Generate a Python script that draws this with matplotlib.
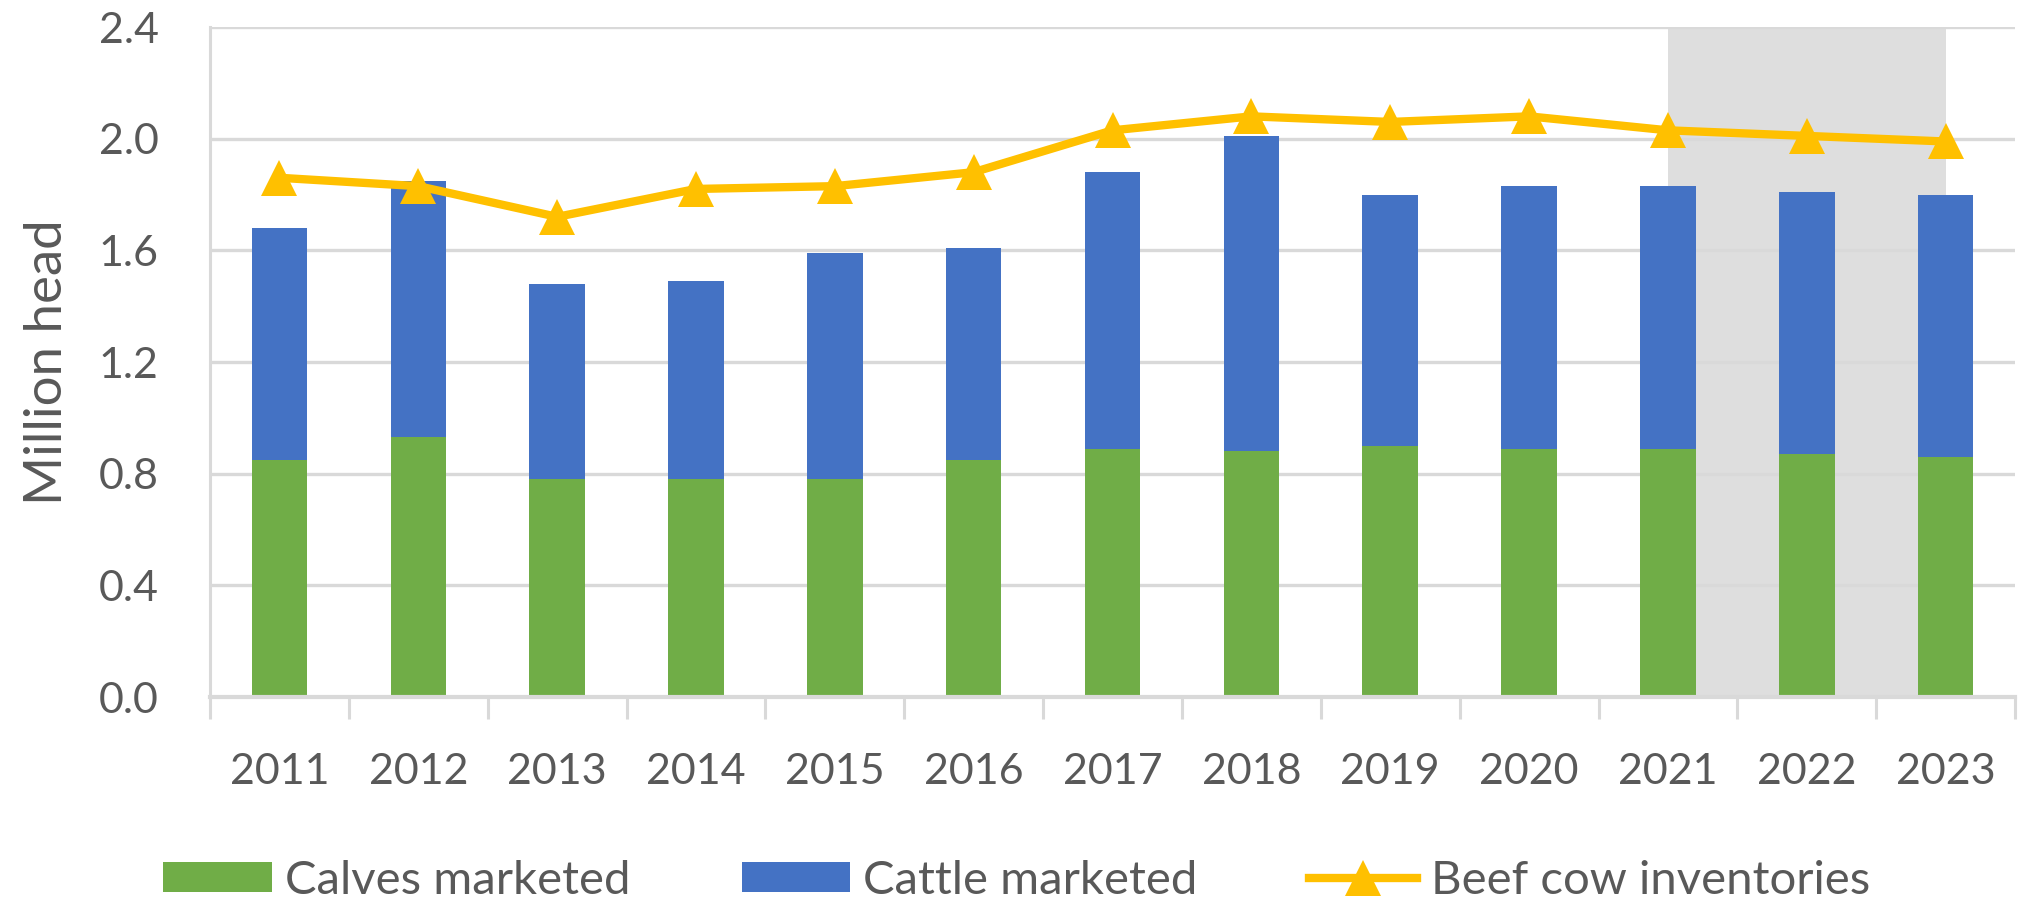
import matplotlib
matplotlib.use("Agg")
import matplotlib.pyplot as plt
import numpy as np
from matplotlib.ticker import FixedLocator, FormatStrFormatter

plt.rcParams['font.family'] = ['Lato', 'DejaVu Sans']

years = ['2011', '2012', '2013', '2014', '2015', '2016', '2017',
         '2018', '2019', '2020', '2021', '2022', '2023']
calves = [0.85, 0.93, 0.78, 0.78, 0.78, 0.85, 0.89, 0.88, 0.90, 0.89, 0.89, 0.87, 0.86]
total_marketed = [1.68, 1.85, 1.48, 1.49, 1.59, 1.61, 1.88, 2.01, 1.80, 1.83, 1.83, 1.81, 1.80]
beef_cows = [1.86, 1.83, 1.72, 1.82, 1.83, 1.88, 2.03, 2.08, 2.06, 2.08, 2.03, 2.01, 1.99]
cattle = [t - c for t, c in zip(total_marketed, calves)]
shade_start, shade_end = '2021', '2023'

GREEN = '#70AD47'
BLUE = '#4472C4'
GOLD = '#FFC000'
TXT = '#595959'
GRID = '#D9D9D9'
SHADE = '#DEDEDE'
FS = 31

fig = plt.figure(figsize=(20.25, 9.07), dpi=100)
ax = fig.add_axes([0.1037, 0.2315, 0.8914, 0.7387])

x = np.arange(len(years))
ax.axvspan(years.index(shade_start), years.index(shade_end), color=SHADE, zorder=0.1, lw=0)

b1 = ax.bar(x, calves, width=0.4, color=GREEN, zorder=2, label='Calves marketed')
b2 = ax.bar(x, cattle, width=0.4, bottom=calves, color=BLUE, zorder=2, label='Cattle marketed')
l1, = ax.plot(x, beef_cows, color=GOLD, lw=6, marker='^', markersize=26, markeredgewidth=0,
              zorder=3, label='Beef cow inventories')

ax.set_xlim(-0.5, len(years) - 0.5)
ax.set_ylim(0, 2.4)
ax.set_yticks(np.arange(0, 2.41, 0.4))
ax.yaxis.set_major_formatter(FormatStrFormatter('%.1f'))
ax.set_xticks(x)
ax.set_xticklabels(years)
ax.xaxis.set_minor_locator(FixedLocator(np.arange(-0.5, len(years), 1.0)))

ax.set_axisbelow(True)
ax.grid(axis='y', color=GRID, lw=2.4, zorder=0.5)
ax.grid(axis='x', visible=False)

for s in ['top', 'right']:
    ax.spines[s].set_visible(False)
ax.spines['left'].set_color(GRID)
ax.spines['left'].set_linewidth(2.2)
ax.spines['bottom'].set_color(GRID)
ax.spines['bottom'].set_linewidth(3)
ax.spines['bottom'].set_zorder(2.5)

ax.tick_params(axis='y', length=0, pad=37, labelsize=FS, labelcolor=TXT)
ax.tick_params(axis='x', which='major', length=0, pad=40, labelsize=FS, labelcolor=TXT)
ax.tick_params(axis='x', which='minor', length=16, width=2.2, color=GRID)

fig.text(48 / 2025, (0.2315 + 0.9702) / 2, 'Million head', rotation=90,
         ha='center', va='center', fontsize=38, color=TXT)

fig.legend([b1, b2, l1], [b1.get_label(), b2.get_label(), l1.get_label()],
           loc='center', bbox_to_anchor=(0.502, 1 - 881 / 907), ncol=3,
           frameon=False, fontsize=34, labelcolor=TXT, handlelength=2.3, handleheight=0.6,
           handletextpad=0.28, columnspacing=2.35, borderaxespad=0, borderpad=0)

fig.savefig('out.png', dpi=100)
